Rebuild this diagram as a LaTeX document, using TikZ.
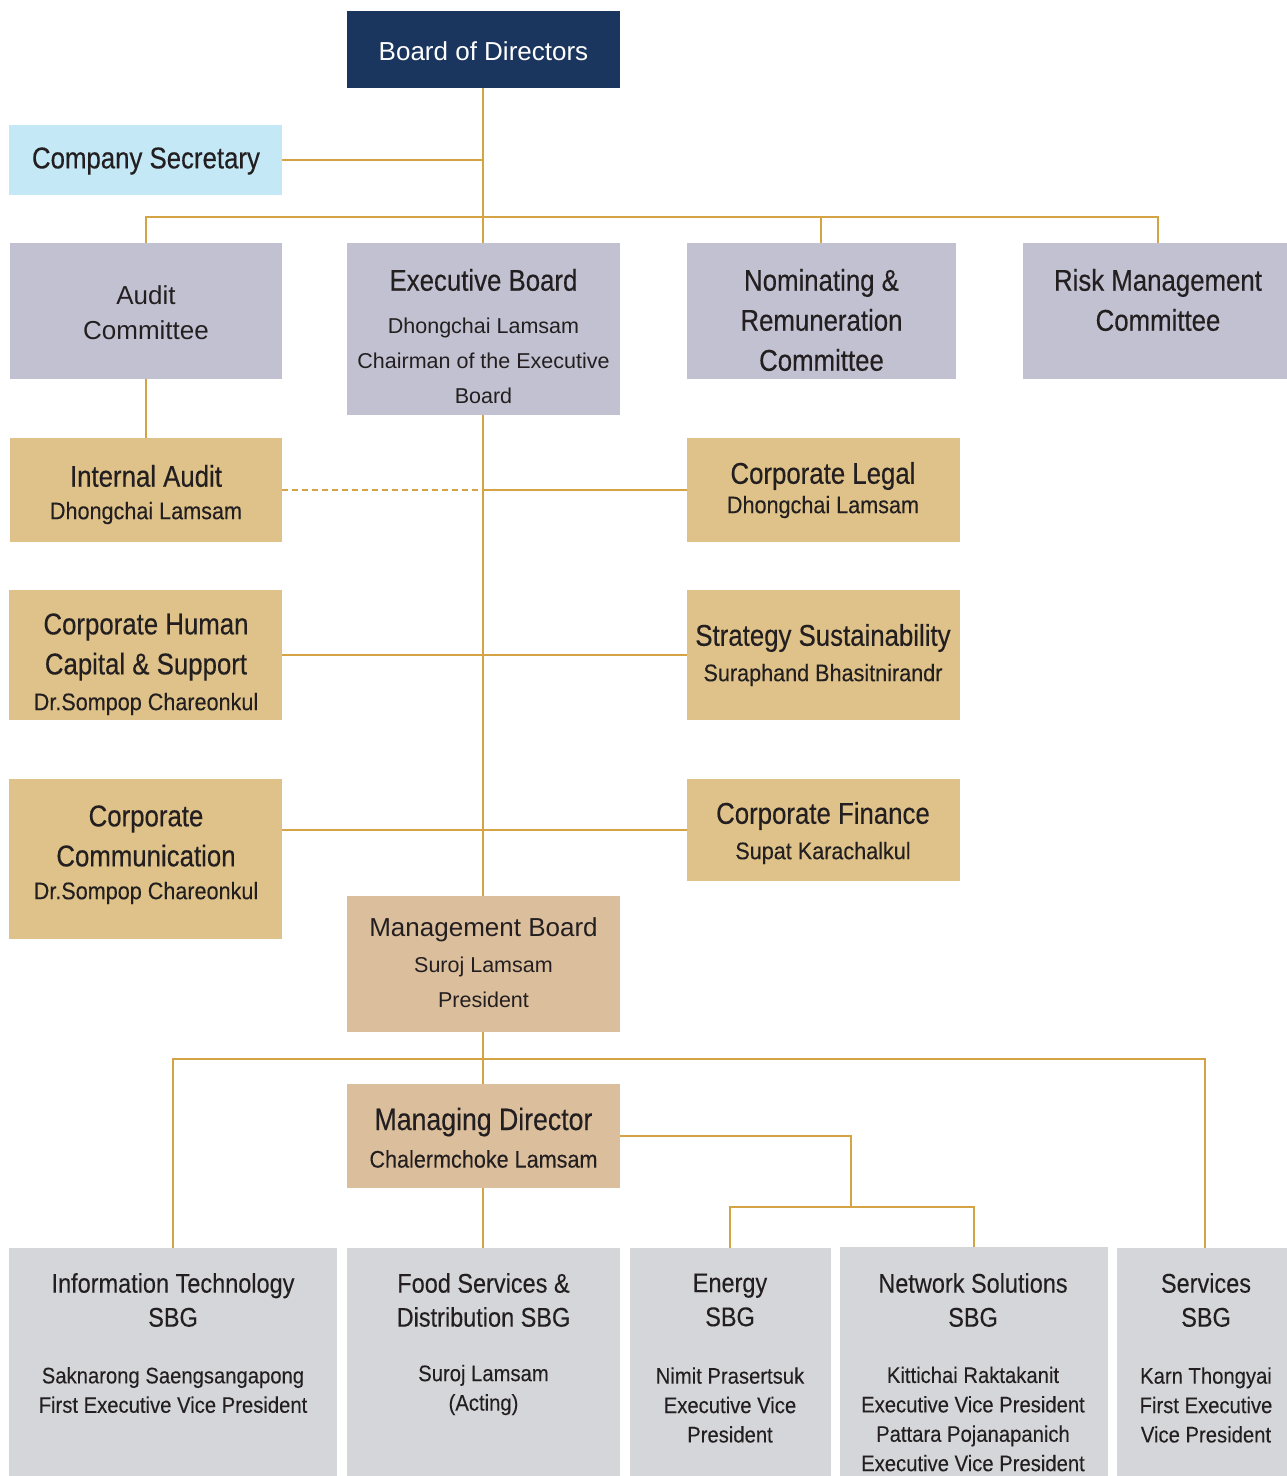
\documentclass[tikz,border=0pt]{standalone}
\usepackage{fontspec}
\setmainfont{Liberation Sans}
\newfontfamily\cnd{Liberation Sans}[FakeStretch=0.86,FakeBold=0.35]
\newfontfamily\cndn{Liberation Sans}[FakeStretch=0.9,FakeBold=0.15]
\newfontfamily\cndb{Liberation Sans}[FakeStretch=0.87,FakeBold=0.2]
\usetikzlibrary{backgrounds}
\definecolor{navy}{HTML}{1A355E}
\definecolor{skyb}{HTML}{C5E8F7}
\definecolor{lav}{HTML}{C2C1D1}
\definecolor{goldbox}{HTML}{DEC289}
\definecolor{tan}{HTML}{DBBE9C}
\definecolor{greyb}{HTML}{D5D6D9}
\definecolor{lineg}{HTML}{D4A444}
\definecolor{ink}{HTML}{231F20}
\tikzset{
  box/.style={draw=none, inner sep=0pt, outer sep=0pt, rectangle},
  conn/.style={draw=lineg, line width=1.8pt},
  tx/.style={inner sep=0pt, text=ink, align=center},
  ttl/.style={tx, font=\cnd\fontsize{30}{40}\selectfont},
  nm/.style={tx, font=\cndn\fontsize{24}{30}\selectfont},
  regt/.style={tx, font=\fontsize{26}{35}\selectfont},
  regs/.style={tx, font=\fontsize{21.5}{35}\selectfont},
  btl/.style={tx, font=\cndb\fontsize{27}{34}\selectfont},
  bnm/.style={tx, font=\cndn\fontsize{22.5}{29.4}\selectfont},
}
\begin{document}
\begin{tikzpicture}[x=1pt,y=-1pt]
\useasboundingbox (0,0) rectangle (1286,1476);
% boxes
\node[box, fill=navy, minimum width=273pt, minimum height=77pt] (bod) at (483,49.5) {};
\node[box, fill=skyb, minimum width=273pt, minimum height=70pt] (cs) at (145.5,160) {};
\node[box, fill=lav, minimum width=272pt, minimum height=136pt] (ac) at (146,311) {};
\node[box, fill=lav, minimum width=273pt, minimum height=172pt] (eb) at (483,329) {};
\node[box, fill=lav, minimum width=269pt, minimum height=136pt] (nr) at (821,311) {};
\node[box, fill=lav, minimum width=270pt, minimum height=136pt] (rm) at (1158,311) {};
\node[box, fill=goldbox, minimum width=272pt, minimum height=104pt] (ia) at (146,490) {};
\node[box, fill=goldbox, minimum width=273pt, minimum height=104pt] (cl) at (823.5,490) {};
\node[box, fill=goldbox, minimum width=273pt, minimum height=130pt] (hc) at (145.5,655) {};
\node[box, fill=goldbox, minimum width=273pt, minimum height=130pt] (ss) at (823.5,655) {};
\node[box, fill=goldbox, minimum width=273pt, minimum height=160pt] (cc) at (145.5,859) {};
\node[box, fill=goldbox, minimum width=273pt, minimum height=102pt] (cf) at (823.5,830) {};
\node[box, fill=tan, minimum width=273pt, minimum height=136pt] (mb) at (483,964) {};
\node[box, fill=tan, minimum width=273pt, minimum height=104pt] (md) at (483,1136) {};
\node[box, fill=greyb, minimum width=328pt, minimum height=232pt] (it) at (173,1364) {};
\node[box, fill=greyb, minimum width=273pt, minimum height=232pt] (fs) at (483,1364) {};
\node[box, fill=greyb, minimum width=201pt, minimum height=232pt] (en) at (730,1364) {};
\node[box, fill=greyb, minimum width=268pt, minimum height=232pt] (ns) at (974,1363) {};
\node[box, fill=greyb, minimum width=176pt, minimum height=232pt] (sv) at (1205,1364) {};

% texts
\node[tx, text=white, font=\fontsize{26}{30}\selectfont] (bod-t) at (483.5,51) {Board of Directors};
\node[ttl] (cs-t) at (146,161) {Company Secretary};
\node[regt] (ac-t) at (146,313) {Audit\\Committee};
\node[ttl] (eb-t) at (483.5,280) {Executive Board};
\node[regs] (eb-s) at (483.5,361) {Dhongchai Lamsam\\Chairman of the Executive\\Board};
\node[ttl] (nr-t) at (821.5,320) {Nominating \&\\Remuneration\\Committee};
\node[ttl] (rm-t) at (1158,300) {Risk Management\\Committee};
\node[ttl] (ia-t) at (146,476) {Internal Audit};
\node[nm] (ia-s) at (146,513) {Dhongchai Lamsam};
\node[ttl] (cl-t) at (823,476) {Corporate Legal};
\node[nm] (cl-s) at (823,507) {Dhongchai Lamsam};
\node[ttl] (hc-t) at (146,647) {Corporate Human\\Capital \& Support};
\node[nm] (hc-s) at (146,704) {Dr.Sompop Chareonkul};
\node[ttl] (ss-t) at (823,638) {Strategy Sustainability};
\node[nm] (ss-s) at (823,675) {Suraphand Bhasitnirandr};
\node[ttl] (cc-t) at (146,836) {Corporate\\Communication};
\node[nm] (cc-s) at (146,893) {Dr.Sompop Chareonkul};
\node[ttl] (cf-t) at (823,816) {Corporate Finance};
\node[nm] (cf-s) at (823,853) {Supat Karachalkul};
\node[regt] (mb-t) at (483.5,930) {Management Board};
\node[regs] (mb-s) at (483.5,982) {Suroj Lamsam\\President};
\node[ttl, font=\cnd\fontsize{31}{40}\selectfont] (md-t) at (483.5,1122) {Managing Director};
\node[nm] (md-s) at (483.5,1159) {Chalermchoke Lamsam};
\node[btl] (it-t) at (173,1300) {Information Technology\\SBG};
\node[bnm] (it-s) at (173,1390) {Saknarong Saengsangapong\\First Executive Vice President};
\node[btl] (fs-t) at (483.5,1300) {Food Services \&\\Distribution SBG};
\node[bnm] (fs-s) at (483.5,1390) {Suroj Lamsam\\(Acting)};
\node[btl] (en-t) at (730,1300) {Energy\\SBG};
\node[bnm] (en-s) at (730,1405) {Nimit Prasertsuk\\Executive Vice\\President};
\node[btl] (ns-t) at (973,1300) {Network Solutions\\SBG};
\node[bnm] (ns-s) at (973,1419) {Kittichai Raktakanit\\Executive Vice President\\Pattara Pojanapanich\\Executive Vice President};
\node[btl] (sv-t) at (1206,1300) {Services\\SBG};
\node[bnm] (sv-s) at (1206,1405) {Karn Thongyai\\First Executive\\Vice President};

% connectors
\coordinate (busA) at (0,217);
\coordinate (busB) at (0,1059);
\coordinate (mdj) at (851,1207);
\begin{scope}[on background layer]
\draw[conn] (bod.south) -- (eb.north);
\draw[conn] (eb.south) -- (mb.north);
\draw[conn] (mb.south) -- (md.north);
\draw[conn] (md.south) -- (fs.north);
\draw[conn] (cs.east) -- (cs.east -| bod.south);
\draw[conn] (ac.north) -- (ac.north |- busA) -- (rm.north |- busA) -- (rm.north);
\draw[conn] (nr.north) -- (nr.north |- busA);
\draw[conn] (ac.south) -- (ia.north);
\draw[conn, dash pattern=on 6pt off 4pt] (ia.east) -- (ia.east -| eb.south);
\draw[conn] (cl.west) -- (cl.west -| eb.south);
\draw[conn] (hc.east) -- (ss.west);
\draw[conn] (cf.west -| cc.east) -- (cf.west);
\draw[conn] (it.north) -- (it.north |- busB) -- (sv.north |- busB) -- (sv.north);
\draw[conn] (md.east) -| (mdj);
\draw[conn] (en.north) |- (mdj) -| (ns.north);
\end{scope}
\end{tikzpicture}
\end{document}
